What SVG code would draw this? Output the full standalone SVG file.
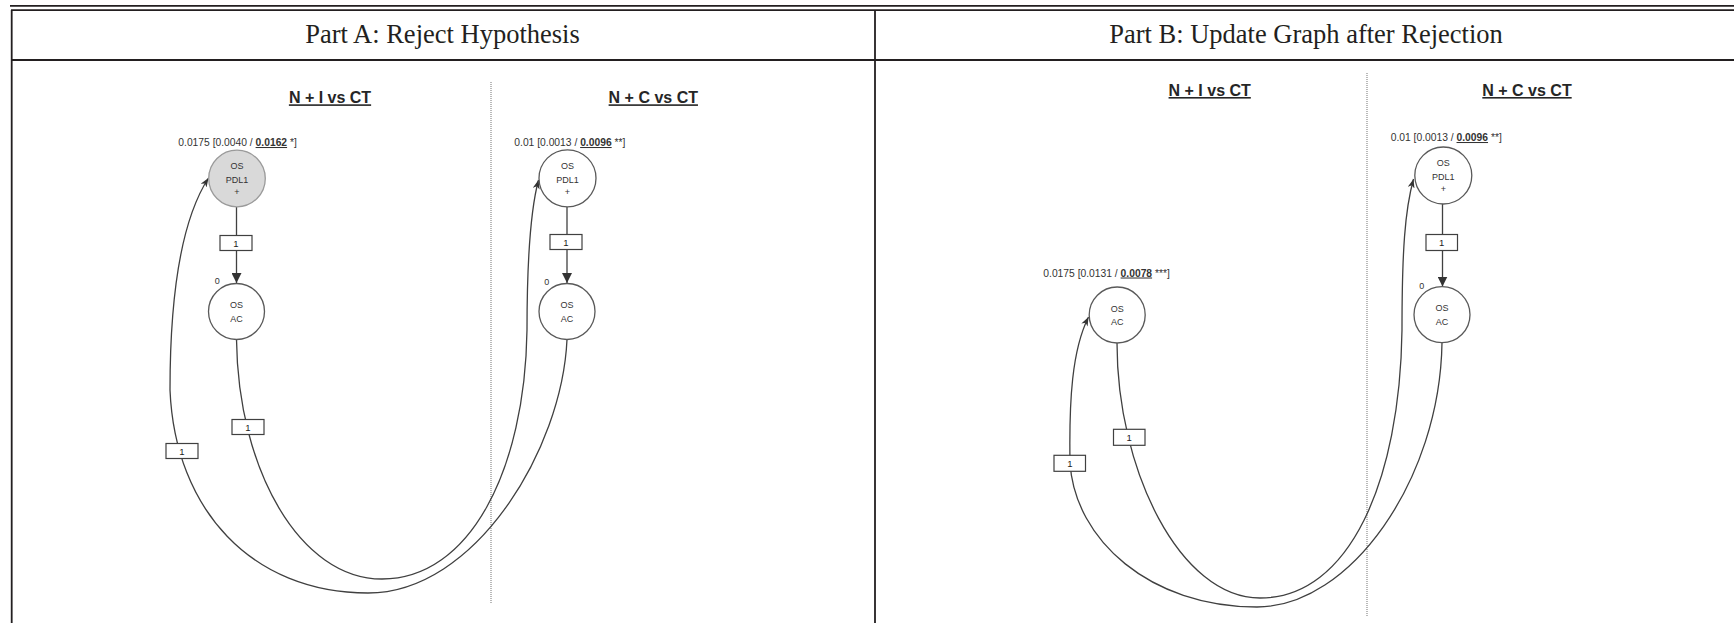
<svg xmlns="http://www.w3.org/2000/svg" width="1734" height="623" viewBox="0 0 1734 623">
  <style>
    .rule { stroke: #231f20; stroke-width: 1.8; fill: none; }
    .hdr { font-family: "Liberation Serif", "Times New Roman", serif; font-size: 26.5px; fill: #231f20; text-anchor: middle; }
    .ttl { font-family: "Liberation Sans", Arial, sans-serif; font-weight: bold; font-size: 16px; fill: #262626; text-anchor: middle; text-decoration: underline; }
    .lbl { font-family: "Liberation Sans", Arial, sans-serif; font-size: 10.3px; fill: #333333; }
    .lbl .u { font-weight: bold; text-decoration: underline; }
    .node { fill: #ffffff; stroke: #595959; stroke-width: 1.3; }
    .node.hit { fill: #d9d9d9; stroke: #9a9a9a; }
    .nt { font-family: "Liberation Sans", Arial, sans-serif; font-size: 9px; fill: #333333; text-anchor: middle; }
    .zero { font-family: "Liberation Sans", Arial, sans-serif; font-size: 9px; fill: #333333; text-anchor: middle; }
    .sep { stroke: #a8a8a8; stroke-width: 1.6; stroke-dasharray: 1 1; }
    .edge { fill: none; stroke: #404040; stroke-width: 1.3; }
    .straight { marker-end: url(#tri); }
    .curve { marker-end: url(#barb); }
    .wbox { fill: #ffffff; stroke: #404040; stroke-width: 1.2; }
    .wt { font-family: "Liberation Sans", Arial, sans-serif; font-size: 9.5px; fill: #222222; text-anchor: middle; }
  </style>
  <defs>
    <marker id="tri" viewBox="0 0 10 10" refX="10" refY="5" markerWidth="10" markerHeight="10" markerUnits="userSpaceOnUse" orient="auto">
      <path d="M0,0 L10,5 L0,10 z" fill="#333333"/>
    </marker>
    <marker id="barb" viewBox="0 0 9 7" refX="9" refY="3.5" markerWidth="9" markerHeight="7" markerUnits="userSpaceOnUse" orient="auto">
      <path d="M0,0 L9,3.5 L0,7 L2.5,3.5 z" fill="#333333"/>
    </marker>
  </defs>

  <rect x="0" y="0" width="1734" height="623" fill="#ffffff"/>

  <!-- table frame -->
  <g id="table">
    <line class="rule" x1="10" y1="5.8" x2="1734" y2="5.8"/>
    <line class="rule" x1="11" y1="10.2" x2="1734" y2="10.2"/>
    <line class="rule" x1="11.7" y1="10" x2="11.7" y2="623"/>
    <line class="rule" x1="875" y1="10" x2="875" y2="623"/>
    <line class="rule" x1="11" y1="60" x2="1734" y2="60"/>
    <text class="hdr" x="442.5" y="43.3">Part A: Reject Hypothesis</text>
    <text class="hdr" x="1306" y="43.3">Part B: Update Graph after Rejection</text>
  </g>

  <!-- column titles and separators -->
  <g id="columns">
    <text class="ttl" x="330" y="103.3">N + I vs CT</text>
    <text class="ttl" x="653.3" y="103.3">N + C vs CT</text>
    <line class="sep" x1="491" y1="82" x2="491" y2="603"/>
    <text class="ttl" x="1209.7" y="96">N + I vs CT</text>
    <text class="ttl" x="1527" y="96">N + C vs CT</text>
    <line class="sep" x1="1367" y1="73" x2="1367" y2="616"/>
  </g>

  <!-- connectors -->
  <g id="connectors">
    <!-- Part A -->
    <path class="edge straight" d="M236.5,207 L236.5,283"/>
    <path class="edge straight" d="M567,207 L567,283"/>
    <path class="edge curve" d="M236.5,339.5 C238,470 300,579 382,579 C470,579 525,470 527,330 C527,260 530,212 538.5,180"/>
    <path class="edge curve" d="M567,339.5 C562,450 475,593 368,593 C252,593 175,510 170,390 C170,300 180,222 208.5,178"/>
    <!-- Part B -->
    <path class="edge straight" d="M1442.5,204 L1442.5,286.5"/>
    <path class="edge curve" d="M1117,343 C1117,470 1180,598 1260,598 C1350,598 1400,480 1402,330 C1402,250 1405,210 1413.5,179"/>
    <path class="edge curve" d="M1442,342.5 C1440,480 1350,607 1257,607 C1150,607 1075,540 1070,463 C1069,400 1072,350 1088.5,317"/>

    <!-- weight labels -->
    <g id="w-a1"><rect class="wbox" x="220" y="235.5" width="32" height="15"/><text class="wt" x="236" y="246.5">1</text></g>
    <g id="w-a2"><rect class="wbox" x="550" y="234.5" width="32" height="15"/><text class="wt" x="566" y="245.5">1</text></g>
    <g id="w-a3"><rect class="wbox" x="232" y="419.5" width="32" height="15"/><text class="wt" x="248" y="430.5">1</text></g>
    <g id="w-a4"><rect class="wbox" x="166" y="443.5" width="32" height="15"/><text class="wt" x="182" y="454.5">1</text></g>
    <g id="w-b1"><rect class="wbox" x="1426" y="234.5" width="31.5" height="16"/><text class="wt" x="1441.7" y="246">1</text></g>
    <g id="w-b2"><rect class="wbox" x="1113.5" y="429.3" width="31.5" height="16"/><text class="wt" x="1129.2" y="440.8">1</text></g>
    <g id="w-b3"><rect class="wbox" x="1054" y="455.3" width="31.5" height="16"/><text class="wt" x="1069.8" y="466.8">1</text></g>
  </g>

  <!-- Part A nodes -->
  <g id="a-ni-pdl1">
    <text class="lbl" x="178.3" y="146">0.0175 [0.0040 / <tspan class="u">0.0162</tspan> *]</text>
    <circle class="node hit" cx="237" cy="178.5" r="28.3"/>
    <text class="nt" x="237" y="169">OS</text>
    <text class="nt" x="237" y="182.5">PDL1</text>
    <text class="nt" x="237" y="195">+</text>
  </g>
  <g id="a-ni-ac">
    <text class="zero" x="217.3" y="284">0</text>
    <circle class="node" cx="236.5" cy="311.5" r="28"/>
    <text class="nt" x="236.5" y="308">OS</text>
    <text class="nt" x="236.5" y="321.5">AC</text>
  </g>
  <g id="a-nc-pdl1">
    <text class="lbl" x="514.3" y="146">0.01 [0.0013 / <tspan class="u">0.0096</tspan> **]</text>
    <circle class="node" cx="567.5" cy="178.3" r="28.5"/>
    <text class="nt" x="567.5" y="169">OS</text>
    <text class="nt" x="567.5" y="182.5">PDL1</text>
    <text class="nt" x="567.5" y="195">+</text>
  </g>
  <g id="a-nc-ac">
    <text class="zero" x="546.7" y="285">0</text>
    <circle class="node" cx="567" cy="311.5" r="28"/>
    <text class="nt" x="567" y="308">OS</text>
    <text class="nt" x="567" y="321.5">AC</text>
  </g>

  <!-- Part B nodes -->
  <g id="b-ni-ac">
    <text class="lbl" x="1043.3" y="276.5">0.0175 [0.0131 / <tspan class="u">0.0078</tspan> ***]</text>
    <circle class="node" cx="1117.2" cy="315" r="28"/>
    <text class="nt" x="1117.2" y="311.5">OS</text>
    <text class="nt" x="1117.2" y="325">AC</text>
  </g>
  <g id="b-nc-pdl1">
    <text class="lbl" x="1390.7" y="141">0.01 [0.0013 / <tspan class="u">0.0096</tspan> **]</text>
    <circle class="node" cx="1443.3" cy="175.5" r="28.5"/>
    <text class="nt" x="1443.3" y="166">OS</text>
    <text class="nt" x="1443.3" y="179.5">PDL1</text>
    <text class="nt" x="1443.3" y="192">+</text>
  </g>
  <g id="b-nc-ac">
    <text class="zero" x="1421.7" y="289">0</text>
    <circle class="node" cx="1442" cy="314.7" r="28"/>
    <text class="nt" x="1442" y="311">OS</text>
    <text class="nt" x="1442" y="324.5">AC</text>
  </g>
</svg>
